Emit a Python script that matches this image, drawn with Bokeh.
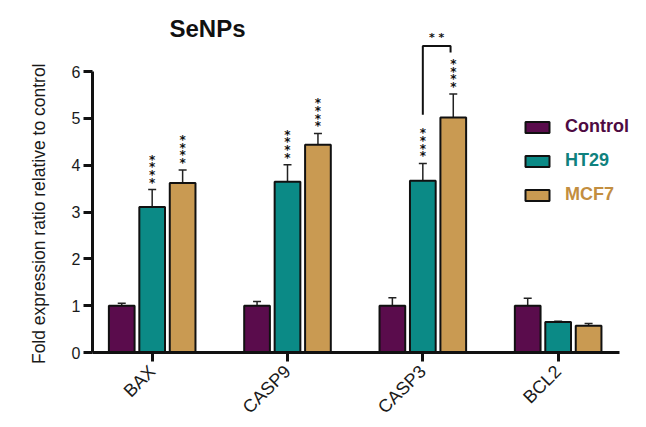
import numpy as np
from bokeh.plotting import figure
from bokeh.models import (ColumnDataSource, Whisker, TeeHead, FixedTicker, Legend,
                          LegendItem, Label, LinearAxis, Title)
from bokeh.core.properties import value
from bokeh.embed import file_html
from bokeh.resources import INLINE

# ---- data ----
genes = ["BAX", "CASP9", "CASP3", "BCL2"]
series = ["Control", "HT29", "MCF7"]
control_mean = [1.00, 1.00, 1.00, 1.00]
control_err = [0.05, 0.09, 0.17, 0.16]
ht29_mean = [3.11, 3.65, 3.67, 0.65]
ht29_err = [0.37, 0.36, 0.37, 0.02]
mcf7_mean = [3.62, 4.44, 5.02, 0.57]
mcf7_err = [0.28, 0.24, 0.50, 0.05]
ht29_sig = ["****", "****", "****", ""]
mcf7_sig = ["****", "****", "****", ""]
# HT29 vs MCF7 comparison on CASP3
bracket_gene = "CASP3"
bracket_low = [5.08, 6.41]
bracket_top = 6.55
bracket_label = "**"

colors = ["#5a0c4c", "#0b8a86", "#c99a52"]
label_colors = ["#4e0a42", "#0f817e", "#c38e40"]
font = "Liberation Sans"

offsets = [-0.225, 0.0, 0.225]
bar_w = 0.19

p = figure(width=646, height=427, output_backend="svg", toolbar_location=None,
           x_range=(-0.441, 3.579), y_range=(0, 7.52),
           min_border_left=92, min_border_right=10, min_border_top=0,
           min_border_bottom=73, x_axis_type=None, y_axis_type=None)
p.outline_line_color = None
p.xgrid.visible = False
p.ygrid.visible = False
p.background_fill_color = "white"
p.border_fill_color = "white"

idx = np.arange(len(genes))
means = [control_mean, ht29_mean, mcf7_mean]
errs = [control_err, ht29_err, mcf7_err]
renderers = []
for k in range(3):
    m = np.array(means[k]); e = np.array(errs[k])
    src = ColumnDataSource(dict(x=idx + offsets[k], top=m, upper=m + e))
    r = p.vbar(x="x", top="top", bottom=0, width=bar_w, source=src,
               fill_color=colors[k], line_color="#111111", line_width=2)
    renderers.append(r)
    w = Whisker(base="x", lower="top", upper="upper", source=src,
                line_color="#222222", line_width=1.5,
                upper_head=TeeHead(size=8, line_color="#222222", line_width=1.5),
                lower_head=None)
    p.add_layout(w)

# significance stars (stacked vertically)
for k, sig in [(1, ht29_sig), (2, mcf7_sig)]:
    m = np.array(means[k]); e = np.array(errs[k])
    txt = ["\n".join(list(s)) for s in sig]
    src = ColumnDataSource(dict(x=idx + offsets[k], y=m + e, t=txt))
    p.text(x="x", y="y", text="t", source=src,
           text_align="center", text_baseline="bottom", text_line_height=0.55,
           text_font=value("DejaVu Sans"), text_font_size="12px",
           text_font_style="bold", text_color="#111111")

# bracket
gi = genes.index(bracket_gene)
bx = [gi + offsets[1], gi + offsets[1], gi + offsets[2] - 0.02, gi + offsets[2] - 0.02]
by = [bracket_low[0], bracket_top, bracket_top, bracket_low[1]]
p.line(bx, by, line_color="#111111", line_width=2)
p.text(x=[(bx[0] + bx[2]) / 2], y=[bracket_top + 0.05], text=[" ".join(list(bracket_label))],
       text_align="center", text_baseline="bottom", text_font=value("DejaVu Sans"),
       text_font_size="11px", text_font_style="bold", text_color="#111111")

# axes
yax = LinearAxis(bounds=(0, 6), ticker=FixedTicker(ticks=[0, 1, 2, 3, 4, 5, 6]))
yax.axis_line_width = 3
yax.axis_line_color = "#111111"
yax.major_tick_line_width = 3
yax.major_tick_line_color = "#111111"
yax.major_tick_out = 9
yax.major_tick_in = 0
yax.minor_tick_line_color = None
yax.major_label_text_font = font
yax.major_label_text_font_size = "16px"
yax.major_label_text_color = "#1a1a1a"
yax.major_label_standoff = 3
p.add_layout(yax, "left")

# y-axis title, placed along the axis extent
ytitle = Title(text="Fold expression ratio relative to control", align="right",
               vertical_align="top", offset=63, text_font=font,
               text_font_size="17.5px", text_font_style="normal",
               text_color="#1a1a1a", standoff=36)
p.add_layout(ytitle, "left")

xax = LinearAxis(bounds=(-0.441, 3.454), ticker=FixedTicker(ticks=list(idx)))
xax.major_label_overrides = {int(i): g for i, g in zip(idx, genes)}
xax.axis_line_width = 3
xax.axis_line_color = "#111111"
xax.major_tick_line_width = 3
xax.major_tick_line_color = "#111111"
xax.major_tick_out = 9
xax.major_tick_in = 0
xax.minor_tick_line_color = None
xax.major_label_orientation = np.pi / 4
xax.major_label_text_font = font
xax.major_label_text_font_size = "18px"
xax.major_label_text_color = "#1a1a1a"
xax.major_label_standoff = 7
p.add_layout(xax, "below")

# chart title
p.add_layout(Label(x=0.409, y=6.93, text="SeNPs", text_align="center",
                   text_baseline="middle", text_font=font, text_font_size="24px",
                   text_font_style="bold", text_color="#111111"))

# legends, one per series for individual text colours
row_y = [215, 181, 147]
for k in range(3):
    lg = Legend(items=[LegendItem(label=series[k], renderers=[renderers[k]])],
                location=(430, row_y[k]), padding=0, margin=0, spacing=0,
                glyph_width=30, glyph_height=14, label_standoff=13,
                label_text_font=font, label_text_font_size="18px",
                label_text_font_style="bold", label_text_color=label_colors[k],
                label_text_baseline="middle", label_height=21,
                border_line_color=None, background_fill_alpha=0)
    p.add_layout(lg, "center")

open("out.html", "w").write(file_html(p, INLINE))
